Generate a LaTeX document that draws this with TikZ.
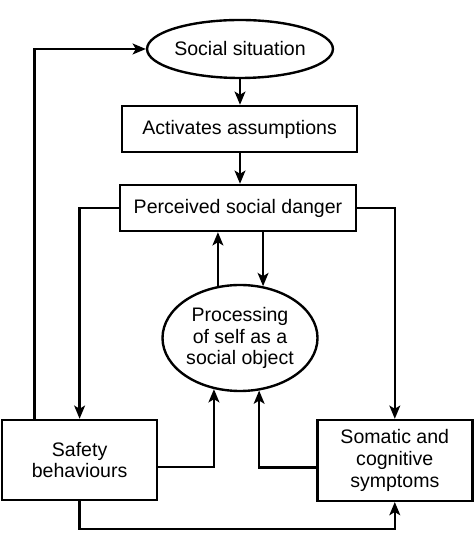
\documentclass[tikz,border=0pt]{standalone}
\usepackage{fontspec}
\setmainfont{Liberation Sans}
\usepackage{tikz}
\usetikzlibrary{positioning,calc,shapes.geometric,arrows.meta}

\begin{document}
\begin{tikzpicture}
	\tikzset{
		box/.style={
			rectangle, draw=black, line width=1.7pt, align=center,
			inner sep=0pt, font=\fontsize{13.9}{15.5}\selectfont
		},
		oval/.style={
			ellipse, draw=black, line width=1.7pt, align=center,
			inner sep=0pt, font=\fontsize{13.9}{15.5}\selectfont
		},
		flow/.style={
			-{Stealth[length=3.3mm,width=2.7mm,inset=0.8mm]},
			draw=black, line width=1.7pt
		}
	}
	\useasboundingbox (0,0) rectangle (11.85,13.4);

	% ======= main column =======
	\node[oval, minimum width=4.3cm, minimum height=1.45cm] (sit) at (6.0,12.175) {Social situation};
	\node[box, minimum width=5.875cm, minimum height=1.15cm] (act) at (5.99,10.175) {Activates assumptions};
	\node[box, minimum width=5.9cm, minimum height=1.15cm] (dang) at (5.95,8.2) {Perceived social danger};
	\node[oval, minimum width=3.875cm, minimum height=2.65cm] (proc) at (6.0,4.95) {Processing\\of self as a\\social object};

	% ======= bottom boxes =======
	\node[box, minimum width=3.875cm, minimum height=2.0cm] (safe) at (1.99,1.9) {Safety\\behaviours};
	\node[box, minimum width=3.875cm, minimum height=2.02cm] (som) at (9.87,1.89) {Somatic and\\cognitive\\symptoms};

	\draw[flow] (sit.south) -- (sit.south |- act.north);
	\draw[flow] (sit.south |- act.south) -- (sit.south |- dang.north);
	\draw[flow] (dang.west) -| (safe.north);
	\draw[flow] (dang.east) -| (som.north);
	\draw[flow] (proc.113) -- (proc.113 |- dang.south);
	\draw[flow] (dang.south -| proc.66) -- (proc.66);

	% ======= feedback loops =======
	\draw[flow] ([yshift=-0.18cm]safe.east) -| (proc.243);
	\draw[flow] ([yshift=-0.18cm]som.west) -| (proc.290);
	\draw[flow] (safe.south) -- ++(0,-0.7) -| (som.south);
	\draw[flow] ([xshift=-1.125cm]safe.north) |- (sit.west);

\end{tikzpicture}
\end{document}
